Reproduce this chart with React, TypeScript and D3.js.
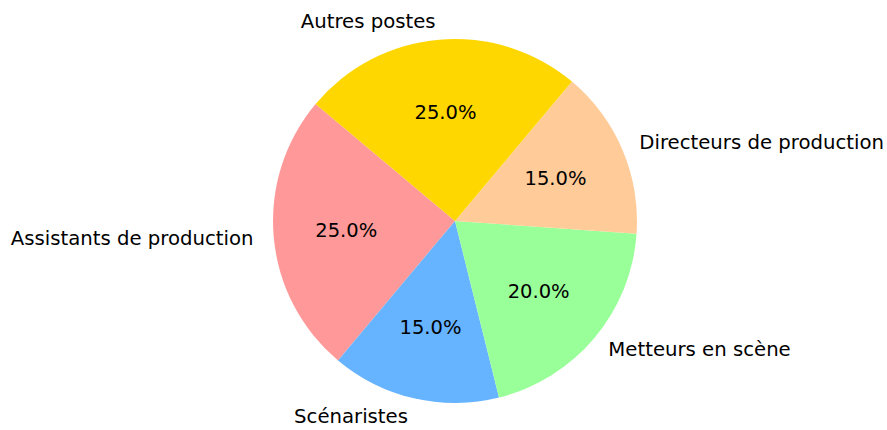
import React from "react";
import * as d3 from "d3";

const labels = [
  "Assistants de production",
  "Scénaristes",
  "Metteurs en scène",
  "Directeurs de production",
  "Autres postes",
];
const values = [25, 15, 20, 15, 25];
const colors = ["#ff9999", "#66b3ff", "#99ff99", "#ffcc99", "#ffd700"];

const W = 887;
const H = 430;
const CX = 455;
const CY = 221;
const R = 182;

export default function App() {
  const start = ((90 - 140) * Math.PI) / 180;
  const pie = d3
    .pie<number>()
    .sort(null)
    .value((d) => d)
    .startAngle(start)
    .endAngle(start - 2 * Math.PI);
  const arcs = pie(values);
  const arc = d3.arc<d3.PieArcDatum<number>>().innerRadius(0).outerRadius(R);
  const labelArc = d3
    .arc<d3.PieArcDatum<number>>()
    .innerRadius(R * 1.1)
    .outerRadius(R * 1.1);
  const pctArc = d3
    .arc<d3.PieArcDatum<number>>()
    .innerRadius(R * 0.6)
    .outerRadius(R * 0.6);
  const total = d3.sum(values);
  const font = "DejaVu Sans, sans-serif";

  return (
    <svg
      width={W}
      height={H}
      style={{ position: "absolute", left: 0, top: 0, background: "#fff" }}
    >
      <g transform={`translate(${CX},${CY})`}>
        {arcs.map((a, i) => (
          <path key={i} d={arc(a) as string} fill={colors[i]} />
        ))}
        {arcs.map((a, i) => {
          const [x, y] = pctArc.centroid(a);
          return (
            <text
              key={"p" + i}
              x={x}
              y={y}
              textAnchor="middle"
              dominantBaseline="central"
              fontFamily={font}
              fontSize={19.5}
              fill="#000"
            >
              {((values[i] / total) * 100).toFixed(1) + "%"}
            </text>
          );
        })}
        {arcs.map((a, i) => {
          const [x, y] = labelArc.centroid(a);
          return (
            <text
              key={"l" + i}
              x={x < 0 ? x - 2 : x}
              y={y}
              textAnchor={x < 0 ? "end" : "start"}
              dominantBaseline="central"
              fontFamily={font}
              fontSize={19.7}
              fill="#000"
            >
              {labels[i]}
            </text>
          );
        })}
      </g>
    </svg>
  );
}
